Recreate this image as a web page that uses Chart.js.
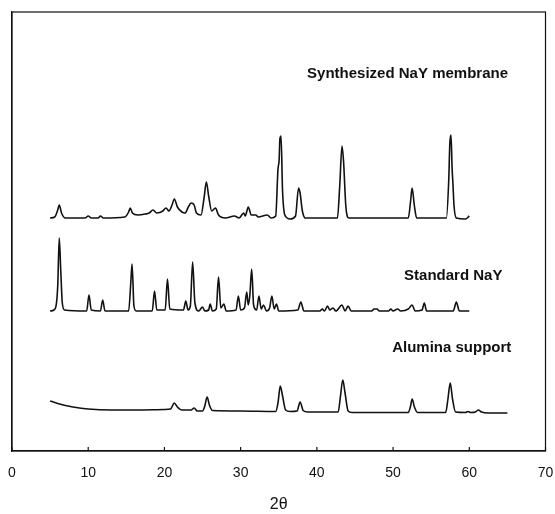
<!DOCTYPE html>
<html>
<head>
<meta charset="utf-8">
<script src="https://cdn.jsdelivr.net/npm/chart.js@4"></script>
<style>
  html, body { margin: 0; padding: 0; background: #fff; }
  #wrap { width: 555px; height: 514px; position: relative; }
</style>
</head>
<body>
<div id="wrap"><canvas id="xrd"></canvas></div>
<script>
// 2theta positions and intensities (arbitrary units, traces already offset)
const synX = [5.0, 5.6, 6.0, 6.2, 6.5, 7.0, 9.6, 10.0, 10.4, 11.3, 11.6, 12.0, 14.8, 15.3, 15.5, 15.8, 16.5, 17.5, 18.0, 18.5, 19.0, 19.8, 20.2, 20.6, 21.0, 21.3, 21.7, 22.3, 22.7, 23.2, 23.5, 23.9, 24.2, 24.8, 25.2, 25.5, 25.8, 26.2, 26.7, 27.1, 28.0, 29.2, 29.8, 30.4, 30.6, 31.0, 31.4, 32.0, 32.3, 33.5, 34.0, 34.6, 34.9, 35.05, 35.15, 35.3, 35.5, 35.8, 36.5, 37.2, 37.6, 37.8, 38.1, 38.5, 42.7, 43.0, 43.3, 43.5, 43.8, 44.2, 52.0, 52.3, 52.5, 52.8, 53.1, 57.0, 57.3, 57.45, 57.6, 57.75, 57.85, 58.0, 58.3, 59.5, 60.0]
const synY = [233, 234, 241, 246, 238, 233, 233, 235, 233, 233, 235, 233, 234, 239, 243, 238, 236, 237, 238, 241, 238, 240, 243, 240, 246, 252, 244, 239, 238, 245, 248, 246, 238, 236, 253, 269, 255, 240, 243, 236, 233, 235, 233, 238, 235, 244, 236, 236, 234, 236, 233, 235, 282, 291, 312, 315, 260, 236, 232, 235, 263, 258, 240, 233, 233, 265, 305, 290, 245, 233, 233, 250, 263, 245, 233, 233, 270, 308, 316, 282, 268, 245, 233, 232, 235]

const stdX = [5.0, 5.5, 5.8, 6.0, 6.2, 6.4, 6.6, 6.9, 9.8, 10.1, 10.4, 11.6, 11.9, 12.2, 15.3, 15.6, 15.75, 16.0, 16.3, 18.4, 18.7, 19.0, 20.1, 20.4, 20.7, 22.5, 22.8, 23.1, 23.4, 23.7, 24.0, 24.5, 25.0, 25.3, 25.8, 26.0, 26.3, 26.8, 27.1, 27.4, 27.8, 28.1, 29.4, 29.7, 30.0, 30.5, 30.8, 31.0, 31.2, 31.45, 31.7, 32.1, 32.4, 32.7, 33.0, 33.4, 33.8, 34.1, 34.4, 34.7, 35.0, 37.5, 37.9, 38.3, 40.4, 40.7, 41.0, 41.4, 41.7, 42.1, 42.5, 43.3, 43.7, 44.1, 44.5, 47.2, 47.5, 47.9, 48.2, 49.4, 49.7, 50.0, 50.6, 51.0, 52.0, 52.5, 52.9, 53.8, 54.1, 54.4, 57.9, 58.3, 58.7, 60.0]
const stdY = [140, 141, 146, 165, 213, 180, 148, 141, 140, 156, 141, 140, 151, 140, 140, 170, 187, 145, 140, 140, 160, 141, 141, 172, 142, 141, 150, 141, 145, 189, 148, 140, 144, 140, 141, 147, 140, 142, 174, 143, 147, 140, 141, 155, 141, 143, 159, 146, 155, 182, 146, 141, 155, 142, 146, 140, 143, 155, 142, 147, 140, 141, 149, 140, 140, 142, 140, 145, 141, 143, 140, 146, 140, 145, 140, 140, 142, 142, 140, 140, 142, 140, 142, 140, 142, 146, 140, 141, 148, 140, 140, 149, 140, 140]

const aluX = [5.0, 6.0, 7.0, 8.0, 10.0, 13.0, 16.0, 20.0, 20.8, 21.3, 21.7, 22.3, 23.5, 23.9, 24.3, 25.0, 25.3, 25.6, 25.9, 26.3, 30.0, 34.6, 34.9, 35.2, 35.5, 35.9, 36.5, 37.4, 37.8, 38.2, 38.8, 42.8, 43.1, 43.4, 43.7, 44.1, 44.6, 52.0, 52.3, 52.5, 52.8, 53.2, 56.9, 57.2, 57.5, 57.8, 58.2, 59.5, 59.8, 60.2, 60.8, 61.2, 61.6, 62.5, 65.0]
const aluY = [50, 47.5, 45.5, 44, 42, 41, 41, 41.5, 42, 48, 44, 41, 41, 43, 40, 40, 45, 54, 46, 40.5, 40, 39.5, 48, 65, 55, 41, 39.5, 40, 49, 40.5, 39, 39, 55, 71, 58, 40, 38.5, 38.5, 45, 52, 44, 38.5, 38.5, 52, 68, 52, 39, 38.5, 39.5, 38.5, 39, 41, 39, 38, 38]

const xTicks = [0, 10, 20, 30, 40, 50, 60, 70]
const traceNames = ["Synthesized NaY membrane", "Standard NaY", "Alumina support"]

const toPts = (xs, ys) => xs.map((x, i) => ({ x: x, y: ys[i] }))

// where the trace names sit (data coordinates)
const nameAnchors = [
  { x: 51.9, y: 377 },
  { x: 57.9, y: 175 },
  { x: 57.7, y: 103 },
]

const framePlugin = {
  id: "frame",
  afterDraw(chart) {
    const { ctx, chartArea: a, scales } = chart
    ctx.save()
    ctx.strokeStyle = "#111"
    ctx.lineWidth = 1.2
    ctx.strokeRect(a.left, a.top, a.right - a.left, a.bottom - a.top)
    // small ticks pointing into the plot
    xTicks.forEach((t) => {
      const px = scales.x.getPixelForValue(t)
      ctx.beginPath()
      ctx.moveTo(px, a.bottom)
      ctx.lineTo(px, a.bottom - 4)
      ctx.stroke()
    })
    ctx.fillStyle = "#111"
    ctx.font = "bold 15px 'Liberation Sans', Arial, sans-serif"
    ctx.textAlign = "center"
    ctx.textBaseline = "middle"
    traceNames.forEach((name, i) => {
      const p = nameAnchors[i]
      ctx.fillText(name, scales.x.getPixelForValue(p.x), scales.y.getPixelForValue(p.y))
    })
    ctx.restore()
  },
}

const lineStyle = {
  borderColor: "#111",
  borderWidth: 1.6,
  pointRadius: 0,
  cubicInterpolationMode: "monotone",
  fill: false,
}

new Chart(document.getElementById("xrd"), {
  type: "line",
  data: {
    datasets: [
      { label: traceNames[0], data: toPts(synX, synY), ...lineStyle },
      { label: traceNames[1], data: toPts(stdX, stdY), ...lineStyle },
      { label: traceNames[2], data: toPts(aluX, aluY), ...lineStyle },
    ],
  },
  options: {
    responsive: true,
    maintainAspectRatio: false,
    animation: false,
    layout: { padding: { left: 12, right: 9.5, top: 12, bottom: 0 } },
    plugins: {
      legend: { display: false },
      tooltip: { enabled: false },
    },
    scales: {
      x: {
        type: "linear",
        min: 0,
        max: 70,
        afterBuildTicks: (scale) => {
          scale.ticks = xTicks.map((v) => ({ value: v }))
        },
        afterFit: (scale) => {
          scale.height = 63
          scale.paddingLeft = 0
          scale.paddingRight = 0
        },
        grid: { display: false, drawTicks: false },
        border: { display: true, color: "#111", width: 1.2 },
        ticks: {
          padding: 14,
          color: "#111",
          maxRotation: 0,
          font: { size: 14, family: "'Liberation Sans', Arial, sans-serif" },
        },
        title: {
          display: true,
          text: "2θ",
          color: "#111",
          padding: { top: 15, bottom: 0 },
          font: { size: 16, family: "'Liberation Sans', Arial, sans-serif" },
        },
      },
      y: {
        min: 0,
        max: 439,
        afterFit: (scale) => {
          scale.width = 0
        },
        grid: { display: false, drawTicks: false },
        border: { display: true, color: "#111", width: 1.2 },
        ticks: { display: false },
      },
    },
  },
  plugins: [framePlugin],
})
</script>
</body>
</html>
